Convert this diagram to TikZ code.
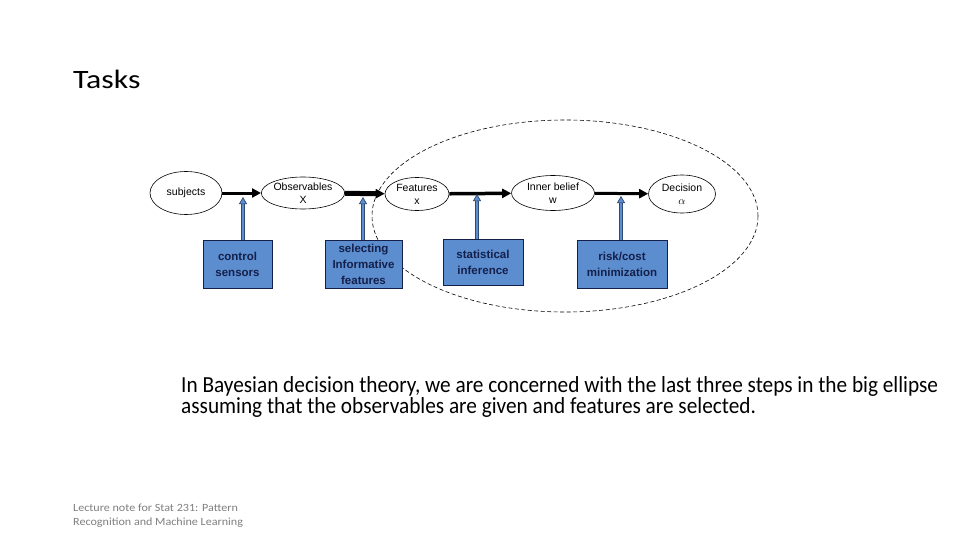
\documentclass[tikz,border=0pt]{standalone}
\usepackage{fontspec}
\setmainfont{Carlito}
\newfontfamily\nodefont{Liberation Sans}
\newfontfamily\bodyfont[FakeStretch=0.925]{Carlito}
\newfontfamily\titlefont[FakeStretch=1.2]{Carlito}
\newfontfamily\footfont[FakeStretch=1.1]{Carlito}
\usetikzlibrary{shapes.geometric,arrows.meta}
\definecolor{boxblue}{HTML}{5B8DCF}
\definecolor{boxedge}{HTML}{14204A}
\definecolor{arrowedge}{HTML}{2E4A75}
\definecolor{footgray}{HTML}{7F7F7F}
\begin{document}
\begin{tikzpicture}[x=1pt,y=-1pt,
  oval/.style={ellipse, draw, line width=0.6pt, inner sep=0pt, align=center,
    font=\nodefont\fontsize{10.5}{13}\selectfont},
  bluebox/.style={draw=boxedge, line width=0.8pt, fill=boxblue, inner sep=0pt, align=center,
    text=boxedge, font=\nodefont\bfseries\fontsize{11.5}{16}\selectfont},
  flow/.style={black, -{Triangle[length=9pt,width=9pt]}},
  support/.style={draw=arrowedge, line width=0.7pt, double=boxblue, double distance=2pt,
    -{Triangle[length=7pt,width=8pt,fill=boxblue]}},
  bigoval/.style={ellipse, draw, line width=0.6pt, dash pattern=on 4pt off 2.5pt}]
\useasboundingbox (0,0) rectangle (960,540);
\fill[white] (0,0) rectangle (960,540);

\node[anchor=base west, inner sep=0pt, font=\titlefont\fontsize{26.5}{32}\selectfont] (title) at (73,89) {Tasks};

\node[bigoval, minimum width=386pt, minimum height=192pt] (big) at (565,216) {};

\node[oval, minimum width=72pt, minimum height=43pt] (subj) at (186,193) {subjects};
\node[oval, minimum width=80pt, minimum height=32pt] (obs) at (303,193) {Observables\\X};
\node[oval, minimum width=64pt, minimum height=33pt] (feat) at (417,194) {Features\\x};
\node[oval, minimum width=83pt, minimum height=35pt] (inner) at (553,193) {Inner belief\\w};
\node[oval, minimum width=67pt, minimum height=38pt] (dec) at (682,194) {Decision\\$\alpha$};

\draw[flow, line width=3pt] (subj) -- (obs);
\draw[flow, line width=5pt] (obs) -- (feat);
\draw[flow, line width=3.5pt] (feat) -- (inner);
\draw[flow, line width=3pt] (inner) -- (dec);

\node[bluebox, minimum width=69pt, minimum height=48pt] (cs) at (237.5,264) {control\\sensors};
\node[bluebox, minimum width=77pt, minimum height=48pt] (sel) at (363.5,264) {selecting\\Informative\\features};
\node[bluebox, minimum width=80pt, minimum height=46pt] (stat) at (483,262) {statistical\\inference};
\node[bluebox, minimum width=90pt, minimum height=48pt] (risk) at (622,264) {risk/cost\\minimization};

\coordinate (t1) at (243,197);
\coordinate (t2) at (363,197);
\coordinate (t3) at (477,194);
\coordinate (t4) at (621,196);
\draw[support] (cs.north -| t1) -- (t1);
\draw[support] (sel.north -| t2) -- (t2);
\draw[support] (stat.north -| t3) -- (t3);
\draw[support] (risk.north -| t4) -- (t4);

\node[anchor=base west, inner sep=0pt, align=left, font=\bodyfont\fontsize{23}{21}\selectfont] (body) at (181,413)
  {In Bayesian decision theory, we are concerned with the last three steps in the big ellipse\\
   assuming that the observables are given and features are selected.};

\node[anchor=base west, inner sep=0pt, align=left, text=footgray, font=\footfont\fontsize{11}{14}\selectfont] (foot) at (73,525)
  {Lecture note for Stat 231: Pattern\\Recognition and Machine Learning};
\end{tikzpicture}
\end{document}
